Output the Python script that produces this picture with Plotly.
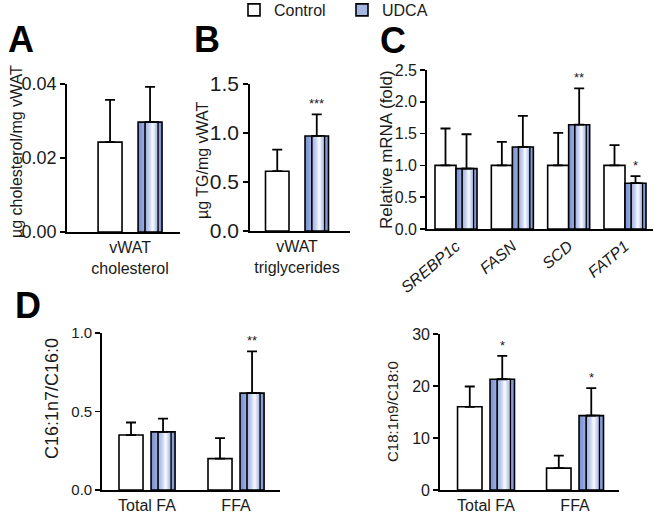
import plotly.graph_objects as go

# ---------------- data ----------------
A_categories = ["vWAT<br>cholesterol"]
A_control = [0.0243]
A_control_err = [0.0114]
A_udca = [0.0297]
A_udca_err = [0.0095]
A_stars = [""]

B_categories = ["vWAT<br>triglycerides"]
B_control = [0.61]
B_control_err = [0.22]
B_udca = [0.97]
B_udca_err = [0.22]
B_stars = ["***"]

C_categories = ["SREBP1c", "FASN", "SCD", "FATP1"]
C_control = [1.0, 1.0, 1.0, 1.0]
C_control_err = [0.58, 0.37, 0.51, 0.32]
C_udca = [0.95, 1.29, 1.64, 0.72]
C_udca_err = [0.54, 0.49, 0.57, 0.11]
C_stars = ["", "", "**", "*"]

D1_categories = ["Total FA", "FFA"]
D1_control = [0.35, 0.20]
D1_control_err = [0.08, 0.13]
D1_udca = [0.37, 0.617]
D1_udca_err = [0.085, 0.266]
D1_stars = ["", "**"]

D2_categories = ["Total FA", "FFA"]
D2_control = [16.0, 4.2]
D2_control_err = [3.9, 2.4]
D2_udca = [21.3, 14.3]
D2_udca_err = [4.5, 5.3]
D2_stars = ["*", "*"]

# ---------------- styling ----------------
W, H = 654, 519
FONT = "Liberation Sans, Arial, sans-serif"
INK = "#1a1a1a"

# horizontal gradient of the UDCA bars, as nested layers (start, end, colour)
GRADIENT = [
    (0.00, 1.00, "#7a91d2"),
    (0.05, 0.97, "#8297d5"),
    (0.11, 0.93, "#8a9ed8"),
    (0.17, 0.90, "#93a6dc"),
    (0.23, 0.86, "#9caee0"),
    (0.29, 0.83, "#a6b6e3"),
    (0.35, 0.80, "#b1bfe7"),
    (0.40, 0.77, "#bdc9eb"),
    (0.45, 0.74, "#c9d3f0"),
    (0.49, 0.71, "#d6def4"),
    (0.53, 0.68, "#e4e9f8"),
    (0.56, 0.65, "#f4f6fd"),
]


def xdom(a, b):
    return [a / W, b / W]


def ydom(top, bottom):
    return [1 - bottom / H, 1 - top / H]


panels = [
    dict(key="A", cats=A_categories, ctrl=A_control, ctrl_err=A_control_err,
         udca=A_udca, udca_err=A_udca_err, stars=A_stars,
         xd=xdom(67, 180), yd=ydom(84, 232), xr=[-0.558, 0.442], yr=[0, 0.04],
         dtick=0.02, fmt=".2f", bw=0.212, gap=0.142, tickfs=18, xfs=16,
         title="µg cholesterol/mg vWAT", tfs=16, tx=16, ty=152),
    dict(key="B", cats=B_categories, ctrl=B_control, ctrl_err=B_control_err,
         udca=B_udca, udca_err=B_udca_err, stars=B_stars,
         xd=xdom(250, 350), yd=ydom(84, 231), xr=[-0.47, 0.53], yr=[0, 1.5],
         dtick=0.5, fmt=".1f", bw=0.235, gap=0.16, tickfs=21, xfs=16,
         title="µg TG/mg vWAT", tfs=16, tx=203, ty=160),
    dict(key="C", cats=C_categories, ctrl=C_control, ctrl_err=C_control_err,
         udca=C_udca, udca_err=C_udca_err, stars=C_stars,
         xd=xdom(427, 653), yd=ydom(70, 229), xr=[-0.515, 3.497], yr=[0, 2.5],
         dtick=0.5, fmt=".1f", bw=0.373, gap=0.0, tickfs=16, xfs=16,
         title="Relative mRNA (fold)", tfs=17, tx=387, ty=150, italic=True),
    dict(key="D1", cats=D1_categories, ctrl=D1_control, ctrl_err=D1_control_err,
         udca=D1_udca, udca_err=D1_udca_err, stars=D1_stars,
         xd=xdom(102, 280), yd=ydom(333, 490), xr=[-0.506, 1.494], yr=[0, 1.0],
         dtick=0.5, fmt=".1f", bw=0.27, gap=0.09, tickfs=15, xfs=16,
         title="C16:1n7/C16:0", tfs=18, tx=52, ty=399),
    dict(key="D2", cats=D2_categories, ctrl=D2_control, ctrl_err=D2_control_err,
         udca=D2_udca, udca_err=D2_udca_err, stars=D2_stars,
         xd=xdom(440, 619), yd=ydom(334, 490), xr=[-0.517, 1.494], yr=[0, 30],
         dtick=10, fmt="d", bw=0.275, gap=0.09, tickfs=16, xfs=16,
         title="C18:1n9/C18:0", tfs=15, tx=392, ty=412),
]

fig = go.Figure()
annotations = []

for i, p in enumerate(panels):
    n = i + 1
    xa = "x" if n == 1 else f"x{n}"
    ya = "y" if n == 1 else f"y{n}"
    xkey = "xaxis" if n == 1 else f"xaxis{n}"
    ykey = "yaxis" if n == 1 else f"yaxis{n}"
    bw, gap = p["bw"], p["gap"]
    off_c = -gap / 2 - bw
    off_u = gap / 2
    first = i == 0

    # control bars (white with black outline)
    fig.add_trace(go.Bar(
        x=p["cats"], y=p["ctrl"], xaxis=xa, yaxis=ya, name="Control",
        width=bw, offset=off_c, showlegend=first, legendgroup="ctrl",
        marker=dict(color="white", line=dict(color="black", width=1.6)),
        error_y=dict(type="data", symmetric=False, array=p["ctrl_err"],
                     arrayminus=[0] * len(p["ctrl"]), color="black",
                     thickness=1.8, width=5),
        hoverinfo="skip",
    ))
    # UDCA bars: gradient layers
    for j, (s, e, col) in enumerate(GRADIENT):
        fig.add_trace(go.Bar(
            x=p["cats"], y=p["udca"], xaxis=xa, yaxis=ya, name="UDCA",
            width=bw * (e - s), offset=off_u + bw * s,
            showlegend=(first and j == 5), legendgroup="udca",
            marker=dict(color=col, line=dict(color="black", width=1.6 if j == 5 else 0)),
            hoverinfo="skip",
        ))
    # UDCA outline + error bars
    fig.add_trace(go.Bar(
        x=p["cats"], y=p["udca"], xaxis=xa, yaxis=ya, name="UDCA",
        width=bw, offset=off_u, showlegend=False, legendgroup="udca",
        marker=dict(color="rgba(0,0,0,0)", line=dict(color="black", width=1.6)),
        error_y=dict(type="data", symmetric=False, array=p["udca_err"],
                     arrayminus=[0] * len(p["udca"]), color="black",
                     thickness=1.8, width=5),
        hoverinfo="skip",
    ))

    # significance stars
    for k, st in enumerate(p["stars"]):
        if st:
            annotations.append(dict(
                x=k + off_u + bw / 2, y=p["udca"][k] + p["udca_err"][k],
                xref=xa, yref=ya, text=st, showarrow=False,
                yanchor="bottom", xanchor="center", yshift=1,
                font=dict(family=FONT, size=13, color=INK),
            ))

    tickfont = dict(family=FONT, size=p["xfs"], color=INK)
    if p.get("italic"):
        tickfont["style"] = "italic"
    fig.layout[xkey] = dict(
        domain=p["xd"], anchor=ya, range=p["xr"], type="category",
        showline=True, linecolor="black", linewidth=1.8, ticks="",
        showgrid=False, zeroline=False, tickfont=tickfont, automargin=False,
        tickangle=-40 if p.get("italic") else 0, fixedrange=True,
    )
    fig.layout[ykey] = dict(
        domain=p["yd"], anchor=xa, range=p["yr"], dtick=p["dtick"], tick0=0,
        tickformat=p["fmt"], showline=True, linecolor="black", linewidth=1.8,
        ticks="outside", ticklen=5, tickwidth=1.5, tickcolor="black",
        showgrid=False, zeroline=False, fixedrange=True, automargin=False,
        tickfont=dict(family=FONT, size=p["tickfs"], color=INK),
    )
    # y axis title
    annotations.append(dict(
        x=p["tx"] / W, y=1 - p["ty"] / H, xref="paper", yref="paper",
        text=p["title"], textangle=-90, showarrow=False,
        xanchor="center", yanchor="middle",
        font=dict(family=FONT, size=p["tfs"], color=INK),
    ))

# panel letters
for letter, (px, py) in {"A": (21, 39), "B": (207, 39), "C": (393, 40), "D": (28, 305)}.items():
    annotations.append(dict(
        x=px / W, y=1 - py / H, xref="paper", yref="paper", text=f"<b>{letter}</b>",
        showarrow=False, xanchor="center", yanchor="middle",
        font=dict(family=FONT, size=36, color="black"),
    ))

fig.update_layout(
    width=W, height=H, margin=dict(l=0, r=0, t=0, b=0, autoexpand=False),
    paper_bgcolor="white", plot_bgcolor="white",
    barmode="overlay",
    annotations=annotations,
    showlegend=True,
    legend=dict(orientation="h", x=234 / W, y=1 - 10 / H, xref="container", yref="container",
                xanchor="left", yanchor="middle",
                font=dict(family=FONT, size=16, color=INK),
                bgcolor="rgba(0,0,0,0)", entrywidth=63, itemwidth=30,
                tracegroupgap=0),
)

fig.write_html(
    "out.html",
    config={"displayModeBar": False, "staticPlot": True},
    post_script="document.body.style.margin='0';document.body.style.overflow='hidden';",
)
